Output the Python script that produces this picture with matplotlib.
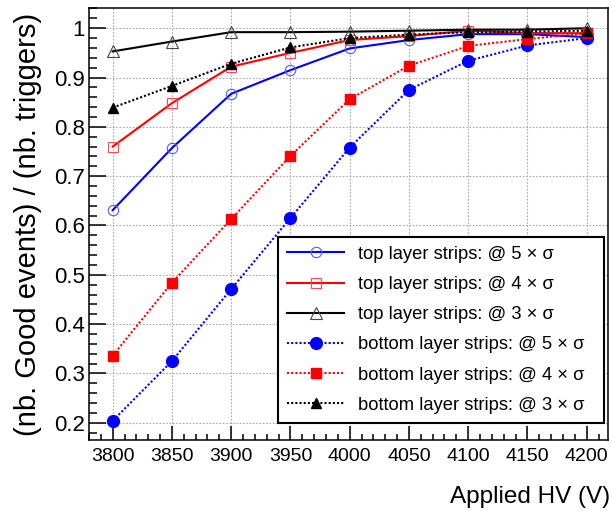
import numpy as np
import matplotlib
matplotlib.use("Agg")
import matplotlib.pyplot as plt
from matplotlib.ticker import MultipleLocator

plt.rcParams['font.family'] = ['Liberation Sans', 'DejaVu Sans']

## data
hv = [3800, 3850, 3900, 3950, 4000, 4050, 4100, 4150, 4200]

top_5 = [0.631, 0.757, 0.867, 0.915, 0.959, 0.976, 0.988, 0.988, 0.982]
top_4 = [0.760, 0.848, 0.922, 0.950, 0.976, 0.984, 0.995, 0.990, 0.990]
top_3 = [0.953, 0.973, 0.992, 0.992, 0.993, 0.995, 0.997, 0.997, 1.000]
bot_5 = [0.204, 0.325, 0.471, 0.615, 0.758, 0.875, 0.934, 0.965, 0.980]
bot_4 = [0.336, 0.484, 0.613, 0.741, 0.856, 0.924, 0.964, 0.978, 0.990]
bot_3 = [0.839, 0.883, 0.928, 0.961, 0.980, 0.987, 0.992, 0.993, 0.995]

labels = ["top layer strips: @ 5 × σ",
          "top layer strips: @ 4 × σ",
          "top layer strips: @ 3 × σ",
          "bottom layer strips: @ 5 × σ",
          "bottom layer strips: @ 4 × σ",
          "bottom layer strips: @ 3 × σ"]

fig = plt.figure(figsize=(6.12, 5.15), dpi=100)
ax = fig.add_axes([89/612, 1-440/515, 519/612, 432/515])

dot = (0, (1, 1))
ax.plot(hv, top_5, color='blue', lw=1.5, marker='o', ms=7.5, mfc='none', mec='#4a5cff', mew=0.8, label=labels[0], zorder=3)
ax.plot(hv, top_4, color='red', lw=1.5, marker='s', ms=7.5, mfc='none', mec='#ff4a4a', mew=0.8, label=labels[1], zorder=3)
ax.plot(hv, top_3, color='black', lw=1.5, marker='^', ms=8, mfc='none', mec='#444444', mew=0.8, label=labels[2], zorder=3)
ax.plot(hv, bot_5, color='blue', lw=1.5, ls=dot, marker='o', ms=8.5, mfc='blue', mec='blue', label=labels[3], zorder=4)
ax.plot(hv, bot_4, color='red', lw=1.5, ls=dot, marker='s', ms=7.5, mfc='red', mec='red', label=labels[4], zorder=4)
ax.plot(hv, bot_3, color='black', lw=1.5, ls=dot, marker='^', ms=7.5, mfc='black', mec='black', label=labels[5], zorder=4)

ax.set_xlim(3780, 4218)
ax.set_ylim(0.165, 1.041)
ax.xaxis.set_major_locator(MultipleLocator(50))
ax.xaxis.set_minor_locator(MultipleLocator(10))
ax.yaxis.set_minor_locator(MultipleLocator(0.02))
ax.set_yticks(np.arange(0.2, 1.01, 0.1))
ax.set_yticklabels(['0.2', '0.3', '0.4', '0.5', '0.6', '0.7', '0.8', '0.9', '1'])

ax.tick_params(which='both', direction='in', top=False, right=False, width=1.1)
ax.tick_params(axis='y', which='major', length=12, labelsize=16, pad=3)
ax.tick_params(axis='y', which='minor', length=6)
ax.tick_params(axis='x', which='major', length=10, labelsize=14, pad=6)
ax.tick_params(axis='x', which='minor', length=4)
for s in ax.spines.values():
    s.set_linewidth(1.1)

ax.grid(True, which='major', color='#aaaaaa', ls=(0, (1.5, 1.5)), lw=0.8)
ax.set_axisbelow(True)

fig.text(0.046, 1-13/515, "(nb. Good events) / (nb. triggers)", rotation=90,
         fontsize=21, ha='center', va='top')
fig.text(0.997, 1-497/515, "Applied HV (V)", fontsize=17.5, ha='right', va='center')

# legend box spans x 278..604, y 237..422 px in the reference
lx0 = (278.3 - 89) / 519
lx1 = (604.3 - 89) / 519
ly1 = (440 - 236.7) / 432
leg = ax.legend(loc='upper left', bbox_to_anchor=(lx0, ly1 - 0.4, lx1 - lx0, 0.4),
                mode='expand', fontsize=13.2, frameon=True, fancybox=False,
                framealpha=1, edgecolor='black', handlelength=3.1,
                handletextpad=0.75, labelspacing=0.72, borderpad=0.5,
                borderaxespad=0)
leg.get_frame().set_linewidth(1.5)

fig.savefig("out.png", dpi=100)
